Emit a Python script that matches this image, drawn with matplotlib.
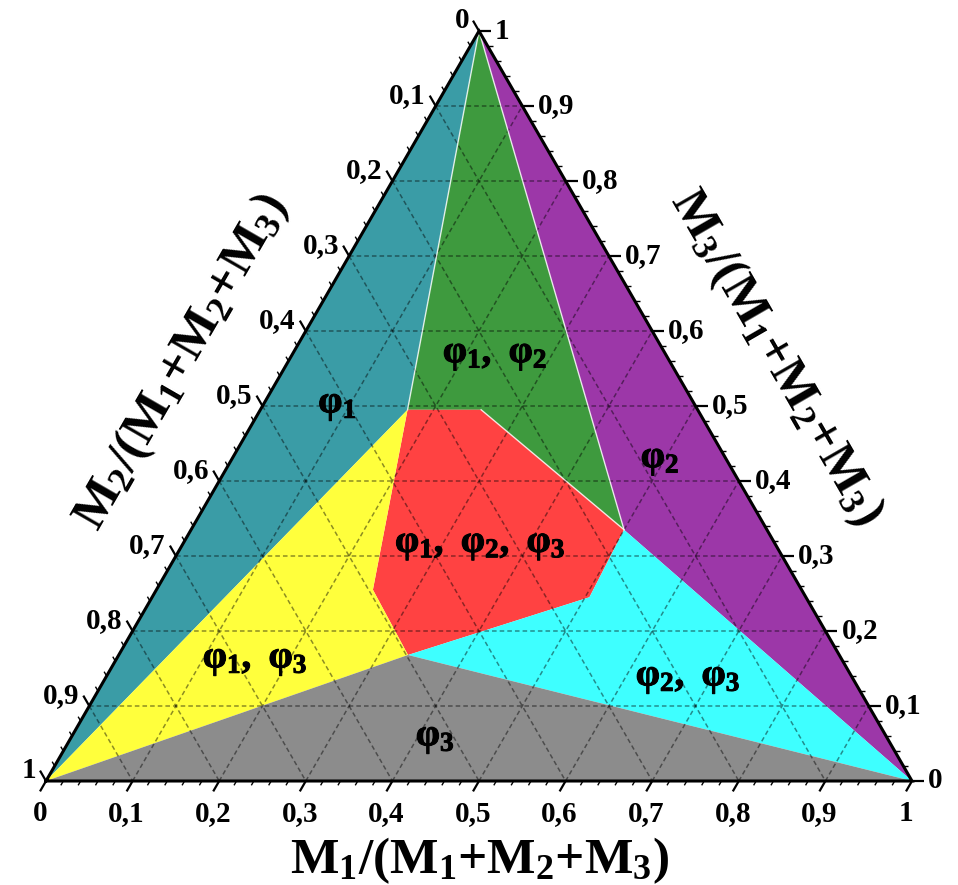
import matplotlib.pyplot as plt
import matplotlib.patheffects as pe
import numpy as np

plt.rcParams['font.family'] = ['Liberation Serif', 'DejaVu Serif']
plt.rcParams['font.weight'] = 'bold'
plt.rcParams['mathtext.fontset'] = 'custom'
plt.rcParams['mathtext.rm'] = 'Liberation Serif:bold'
plt.rcParams['mathtext.it'] = 'Liberation Serif:bold'
plt.rcParams['mathtext.bf'] = 'Liberation Serif:bold'

# corner points of the phase fields as (M1, M3) fractions, M2 = 1 - M1 - M3
node_names = ['top', 'left', 'right', 'A', 'B', 'C', 'D', 'E', 'F']
node_m1 = [0.0, 0.0, 1.0, 0.170, 0.255, 0.500, 0.505, 0.334, 0.250]
node_m3 = [1.0, 0.0, 0.0, 0.495, 0.495, 0.335, 0.245, 0.168, 0.255]

region_labels = [r'$φ_1$', r'$φ_1,\ φ_2$', r'$φ_2$', r'$φ_1,\ φ_2,\ φ_3$',
                 r'$φ_1,\ φ_3$', r'$φ_2,\ φ_3$', r'$φ_3$']
region_nodes = [['top', 'left', 'A'],
                ['top', 'A', 'B', 'C'],
                ['top', 'C', 'right'],
                ['A', 'B', 'C', 'D', 'E', 'F'],
                ['left', 'A', 'F', 'E'],
                ['E', 'D', 'C', 'right'],
                ['left', 'E', 'right']]
region_colors = ['#3a9ca6', '#3e9a3e', '#9c37a8', '#ff4242',
                 '#ffff3c', '#3effff', '#8c8c8c']

tick_values = np.round(np.arange(0, 1.0001, 0.1), 1)
tick_labels = ['0' if v == 0 else '1' if v == 1 else f'{v:.1f}'.replace('.', ',')
               for v in tick_values]

# label anchor points in (M1, M3)
label_pos = [(0.086, 0.501), (0.2345, 0.568), (0.495, 0.428), (0.344, 0.315),
             (0.161, 0.161), (0.673, 0.137), (0.421, 0.057)]

H = np.sqrt(3) / 2
PX = 1 / 866  # one pixel in data units
X0, Y0 = 46, 781  # pixel position of the M2 corner


def tern(m1, m3):
    m1 = np.asarray(m1, dtype=float)
    m3 = np.asarray(m3, dtype=float)
    return m1 + 0.5 * m3, m3 * H


def pix(px, py):
    return (px - X0) * PX, (Y0 - py) * PX


nodes = {n: tern(a, c) for n, a, c in zip(node_names, node_m1, node_m3)}

fig = plt.figure(figsize=(9.58, 8.85), dpi=100)
ax = fig.add_axes([0, 0, 1, 1])
ax.set_xlim(-X0 * PX, (958 - X0) * PX)
ax.set_ylim(-(885 - Y0) * PX, Y0 * PX)
ax.axis('off')

# phase fields
for names, color in zip(region_nodes, region_colors):
    pts = np.array([nodes[n] for n in names])
    ax.fill(pts[:, 0], pts[:, 1], color=color, lw=0, zorder=1)

# dashed grid at 0.1 steps
for v in tick_values[1:-1]:
    for p, q in [((v, 0), (v, 1 - v)),          # M1 = const
                 ((0, v), (1 - v, v)),          # M3 = const
                 ((0, 1 - v), (1 - v, 0))]:     # M2 = const
        x, y = tern([p[0], q[0]], [p[1], q[1]])
        ax.plot(x, y, color='black', alpha=0.45, lw=1.1,
                linestyle=(0, (3, 2)), zorder=2)

# light boundaries around the phi1+phi2 field
for a, b in [('top', 'A'), ('B', 'C'), ('C', 'top')]:
    ax.plot([nodes[a][0], nodes[b][0]], [nodes[a][1], nodes[b][1]],
            color='white', lw=1.0, alpha=0.8, zorder=3)

# triangle frame
tri = np.array([nodes['left'], nodes['right'], nodes['top'], nodes['left']])
ax.plot(tri[:, 0], tri[:, 1], color='black', lw=2.2, zorder=4,
        solid_joinstyle='miter')

# ticks: bottom (M1), left (M2), right (M3)
minor = np.round(np.arange(0, 1.0001, 0.02), 2)
axes_def = [
    (lambda v: tern(v, 0), (-0.5, -H)),
    (lambda v: tern(0, 1 - v), (-0.5, H)),
    (lambda v: tern(1 - v, v), (1.0, 0.0)),
]
for k, (pos, d) in enumerate(axes_def):
    for v in minor:
        major = abs(v * 10 - round(v * 10)) < 1e-6
        ln = (12 if major else 5) * PX
        x0, y0 = pos(v)
        ax.plot([x0, x0 + d[0] * ln], [y0, y0 + d[1] * ln],
                color='black', lw=1.6 if major else 1.0, zorder=4,
                solid_capstyle='butt')
    for v, lab in zip(tick_values, tick_labels):
        x0, y0 = pos(v)
        xe, ye = x0 + d[0] * 12 * PX, y0 + d[1] * 12 * PX
        if k == 0:
            ax.text(xe, ye - 9 * PX, lab, ha='center', va='top', fontsize=21,
                    fontweight='bold')
        elif k == 1:
            ax.text(xe - 4 * PX, ye, lab, ha='right', va='center', fontsize=21,
                    fontweight='bold')
        else:
            ax.text(xe + 4 * PX, ye, lab, ha='left', va='center', fontsize=21,
                    fontweight='bold')

# axis titles
ax.text(*pix(479, 861), r'$\mathrm{M_1/(M_1{+}M_2{+}M_3)}$',
        ha='center', va='center', fontsize=37)
ax.text(*pix(182, 362), r'$\mathrm{M_2/(M_1{+}M_2{+}M_3)}$',
        ha='center', va='center', fontsize=37, rotation=60,
        rotation_mode='anchor')
ax.text(*pix(776, 357), r'$\mathrm{M_3/(M_1{+}M_2{+}M_3)}$',
        ha='center', va='center', fontsize=37, rotation=-60,
        rotation_mode='anchor')

# phase labels
for lab, (m1, m3) in zip(region_labels, label_pos):
    x, y = tern(m1, m3)
    ax.text(x, y, lab, ha='center', va='center', fontsize=28, zorder=5,
            path_effects=[pe.withStroke(linewidth=0.7, foreground='black')])

fig.savefig('out.png', dpi=100)
